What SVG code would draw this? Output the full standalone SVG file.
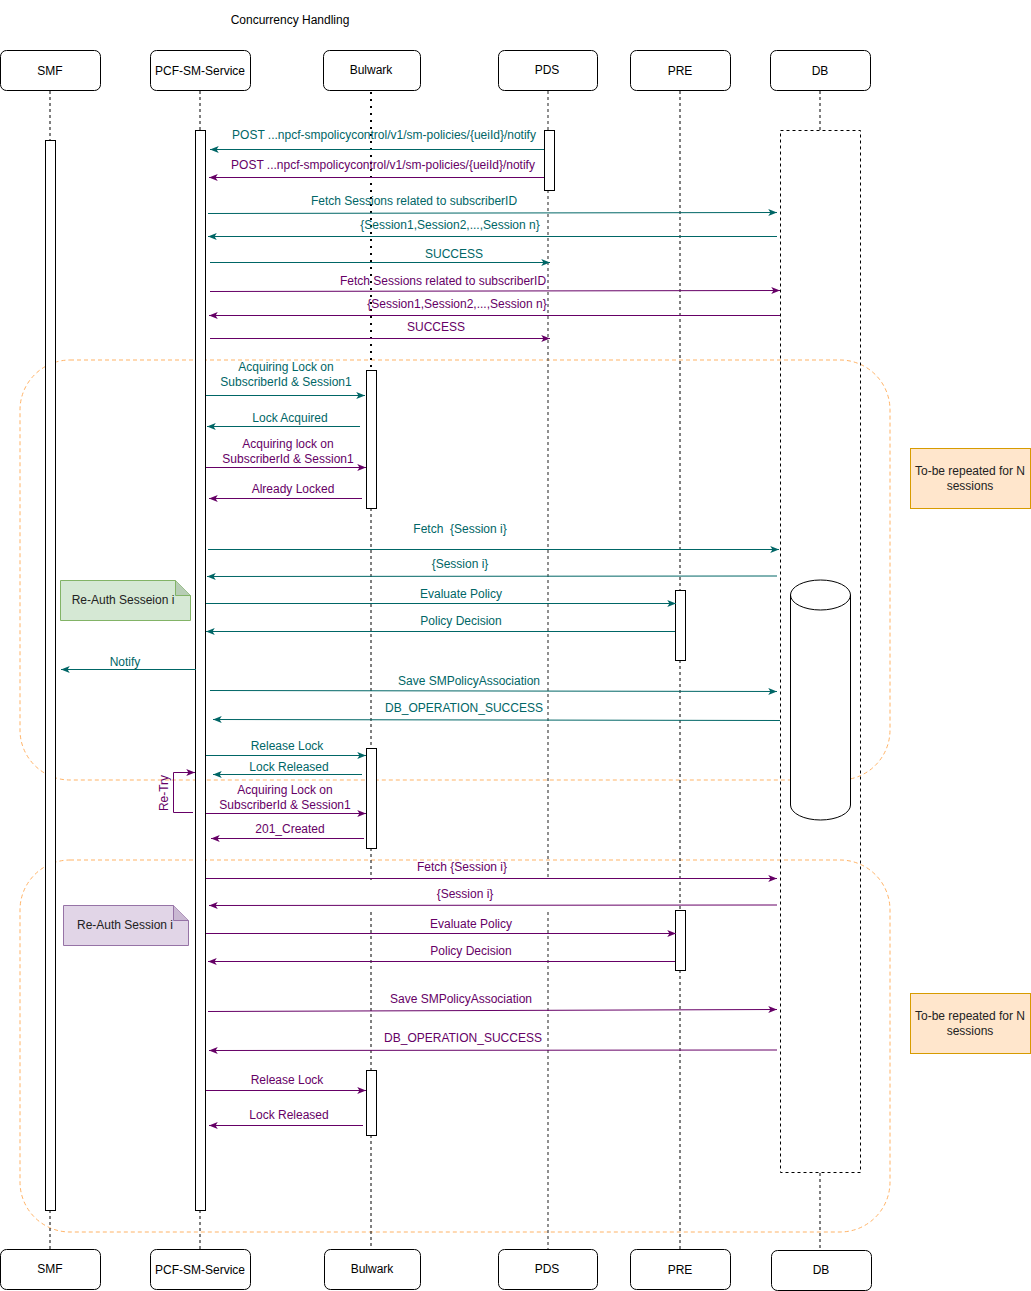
<svg xmlns="http://www.w3.org/2000/svg" width="1031" height="1291" viewBox="0 0 1031 1291">
<style>
text{font-family:"Liberation Sans",Arial,sans-serif;font-size:12px;text-anchor:middle}
.box{fill:#fff;stroke:#000;stroke-width:1}
.act{fill:#fff;stroke:#000;stroke-width:1}
.life{stroke:#000;stroke-width:1;stroke-dasharray:3 3;fill:none}
.gray{stroke:#555;stroke-width:1.3}
.dots{stroke:#000;stroke-width:2;stroke-dasharray:2 5;fill:none}
.frame{fill:none;stroke:#FFB366;stroke-width:1;stroke-dasharray:4 3}
.t{stroke:#006666;stroke-width:1;fill:none;marker-end:url(#at)}
.p{stroke:#660066;stroke-width:1;fill:none;marker-end:url(#ap)}
.tt{fill:#006666}
.pt{fill:#660066}
.rep{fill:#ffe6cc;stroke:#d79b00}
</style>
<defs>
<marker id="at" viewBox="0 0 10 8" refX="10" refY="4" markerWidth="9" markerHeight="7" orient="auto" markerUnits="userSpaceOnUse"><path d="M0,0 L10,4 L0,8 L2.5,4 Z" fill="#006666"/></marker>
<marker id="ap" viewBox="0 0 10 8" refX="10" refY="4" markerWidth="9" markerHeight="7" orient="auto" markerUnits="userSpaceOnUse"><path d="M0,0 L10,4 L0,8 L2.5,4 Z" fill="#660066"/></marker>
</defs>
<rect width="1031" height="1291" fill="#fff"/>
<text x="290" y="24">Concurrency Handling</text>

<g id="frames">
<rect class="frame" x="20" y="360" width="870" height="420" rx="50"/>
<rect class="frame" x="20" y="860" width="870" height="372" rx="50"/>
</g>

<g id="smf">
<rect class="box" x="0.5" y="50.5" width="100" height="40" rx="6"/>
<text x="50" y="75">SMF</text>
<line class="life" x1="50" y1="91" x2="50" y2="140"/>
<line class="life" x1="50" y1="1210" x2="50" y2="1250"/>
<rect class="act" x="45.5" y="140.5" width="10" height="1070"/>
<rect class="box" x="0.5" y="1249.5" width="100" height="40" rx="6"/>
<text x="50" y="1273">SMF</text>
</g>

<g id="pcf">
<rect class="box" x="150.5" y="50.5" width="100" height="40" rx="6"/>
<text x="200" y="75">PCF-SM-Service</text>
<line class="life" x1="200" y1="91" x2="200" y2="130"/>
<line class="life" x1="200" y1="1210" x2="200" y2="1250"/>
<rect class="act" x="195.5" y="130.5" width="10" height="1080"/>
<rect class="box" x="150.5" y="1249.5" width="100" height="40" rx="6"/>
<text x="200" y="1274">PCF-SM-Service</text>
</g>

<g id="bulwark">
<rect class="box" x="323.5" y="50.5" width="97" height="40" rx="6"/>
<text x="371" y="74">Bulwark</text>
<line class="dots" x1="371" y1="92" x2="371" y2="370"/>
<line class="life" x1="371" y1="508" x2="371" y2="748"/>
<line class="life" x1="371" y1="848" x2="371" y2="880"/>
<line class="life" x1="371" y1="912" x2="371" y2="1070"/>
<line class="life" x1="371" y1="1135" x2="371" y2="1250"/>
<rect class="act" x="366.5" y="370.5" width="10" height="138"/>
<rect class="act" x="366.5" y="748.5" width="10" height="100"/>
<rect class="act" x="366.5" y="1070.5" width="10" height="65"/>
<rect class="box" x="324.5" y="1249.5" width="96" height="40" rx="6"/>
<text x="372" y="1273">Bulwark</text>
</g>

<g id="pds">
<rect class="box" x="498.5" y="50.5" width="99" height="40" rx="6"/>
<text x="547" y="74">PDS</text>
<line class="life gray" x1="548" y1="91" x2="548" y2="130"/>
<line class="life gray" x1="548" y1="190" x2="548" y2="880"/>
<line class="life gray" x1="548" y1="912" x2="548" y2="1250"/>
<rect class="act" x="544.5" y="130.5" width="10" height="60"/>
<rect class="box" x="498.5" y="1249.5" width="99" height="40" rx="6"/>
<text x="547" y="1273">PDS</text>
</g>

<g id="pre">
<rect class="box" x="630.5" y="50.5" width="100" height="40" rx="6"/>
<text x="680" y="75">PRE</text>
<line class="life" x1="680" y1="91" x2="680" y2="590"/>
<line class="life" x1="680" y1="660" x2="680" y2="910"/>
<line class="life" x1="680" y1="970" x2="680" y2="1250"/>
<rect class="act" x="675.5" y="590.5" width="10" height="70"/>
<rect class="act" x="675.5" y="910.5" width="10" height="60"/>
<rect class="box" x="630.5" y="1249.5" width="100" height="40" rx="6"/>
<text x="680" y="1274">PRE</text>
</g>

<g id="db">
<rect class="box" x="770.5" y="50.5" width="100" height="40" rx="6"/>
<text x="820" y="75">DB</text>
<line class="life" x1="820" y1="91" x2="820" y2="130"/>
<rect class="life" x="780.5" y="130.5" width="80" height="1042"/>
<line class="life" x1="820" y1="1173" x2="820" y2="1250"/>
<rect class="box" x="771.5" y="1250.5" width="100" height="40" rx="6"/>
<text x="821" y="1274">DB</text>
</g>

<g id="db-cylinder">
<path d="M790.5,595 A30,15 0 0 1 850.5,595 V805 A30,15 0 0 1 790.5,805 Z" fill="#fff" stroke="#000"/>
<path d="M790.5,595 A30,15 0 0 0 850.5,595" fill="none" stroke="#000"/>
</g>

<g id="note-reauth-1">
<path d="M60.5,580.5 H175.5 L190.5,595.5 V620.5 H60.5 Z" fill="#d5e8d4" stroke="#82b366"/>
<path d="M175.5,580.5 V595.5 H190.5" fill="#b7cdb5" stroke="#82b366"/>
<text x="123" y="604" fill="#222">Re-Auth Sesseion i</text>
</g>

<g id="note-reauth-2">
<path d="M63.5,905.5 H173.5 L188.5,920.5 V945.5 H63.5 Z" fill="#e1d5e7" stroke="#9673a6"/>
<path d="M173.5,905.5 V920.5 H188.5" fill="#c9b8d2" stroke="#9673a6"/>
<text x="125" y="929" fill="#222">Re-Auth Session i</text>
</g>

<g id="note-repeat-1">
<rect class="rep" x="910.5" y="448.5" width="120" height="60"/>
<text x="970" y="475" fill="#222">To-be repeated for N</text>
<text x="970" y="490" fill="#222">sessions</text>
</g>

<g id="note-repeat-2">
<rect class="rep" x="910.5" y="993.5" width="120" height="60"/>
<text x="970" y="1020" fill="#222">To-be repeated for N</text>
<text x="970" y="1035" fill="#222">sessions</text>
</g>

<g id="connectors">
<line class="t" x1="544" y1="149.5" x2="210" y2="149.5"/>
<text class="tt" x="384" y="139">POST ...npcf-smpolicycontrol/v1/sm-policies/{ueiId}/notify</text>
<line class="p" x1="544" y1="177.5" x2="209" y2="177.5"/>
<text class="pt" x="383" y="169">POST ...npcf-smpolicycontrol/v1/sm-policies/{ueiId}/notify</text>

<line class="t" x1="208" y1="213.5" x2="777" y2="212.5"/>
<text class="tt" x="414" y="205">Fetch Sessions related to subscriberID</text>
<line class="t" x1="777" y1="236.5" x2="208" y2="236.5"/>
<text class="tt" x="450" y="229">{Session1,Session2,...,Session n}</text>
<line class="t" x1="210" y1="262.5" x2="550" y2="262.5"/>
<text class="tt" x="454" y="258">SUCCESS</text>

<line class="p" x1="210" y1="291.5" x2="780" y2="290.5"/>
<text class="pt" x="443" y="285">Fetch Sessions related to subscriberID</text>
<line class="p" x1="780" y1="315.5" x2="209" y2="315.5"/>
<text class="pt" x="457" y="308">{Session1,Session2,...,Session n}</text>
<line class="p" x1="210" y1="338.5" x2="550" y2="338.5"/>
<text class="pt" x="436" y="331">SUCCESS</text>

<line class="t" x1="206" y1="395.5" x2="365" y2="395.5"/>
<text class="tt" x="286" y="371">Acquiring Lock on</text>
<text class="tt" x="286" y="386">SubscriberId &amp; Session1</text>
<line class="t" x1="360" y1="426.5" x2="207" y2="426.5"/>
<text class="tt" x="290" y="422">Lock Acquired</text>
<line class="p" x1="206" y1="467.5" x2="366" y2="467.5"/>
<text class="pt" x="288" y="448">Acquiring lock on</text>
<text class="pt" x="288" y="463">SubscriberId &amp; Session1</text>
<line class="p" x1="362" y1="498.5" x2="209" y2="498.5"/>
<text class="pt" x="293" y="493">Already Locked</text>

<line class="t" x1="208" y1="549.5" x2="779" y2="549.5"/>
<text class="tt" x="460" y="533" xml:space="preserve">Fetch  {Session i}</text>
<line class="t" x1="777" y1="576" x2="207" y2="576.5"/>
<text class="tt" x="460" y="568">{Session i}</text>
<line class="t" x1="206" y1="603.5" x2="676" y2="603.5"/>
<text class="tt" x="461" y="598">Evaluate Policy</text>
<line class="t" x1="675" y1="631.5" x2="206" y2="631.5"/>
<text class="tt" x="461" y="625">Policy Decision</text>
<line class="t" x1="196" y1="669.5" x2="61" y2="669.5"/>
<text class="tt" x="125" y="666">Notify</text>
<line class="t" x1="210" y1="690.5" x2="777" y2="691.5"/>
<text class="tt" x="469" y="685">Save SMPolicyAssociation</text>
<line class="t" x1="780" y1="720.5" x2="213" y2="719.5"/>
<text class="tt" x="464" y="712">DB_OPERATION_SUCCESS</text>
<line class="t" x1="206" y1="755.5" x2="366" y2="755.5"/>
<text class="tt" x="287" y="750">Release Lock</text>
<line class="t" x1="362" y1="774.5" x2="213" y2="774.5"/>
<text class="tt" x="289" y="771">Lock Released</text>

<path class="p" d="M193,812.5 H173.5 V772.5 H195"/>
<text class="pt" transform="translate(168,793) rotate(-90)">Re-Try</text>

<line class="p" x1="206" y1="813.5" x2="366" y2="813.5"/>
<text class="pt" x="285" y="794">Acquiring Lock on</text>
<text class="pt" x="285" y="809">SubscriberId &amp; Session1</text>
<line class="p" x1="364" y1="838.5" x2="211" y2="838.5"/>
<text class="pt" x="290" y="833">201_Created</text>

<line class="p" x1="206" y1="878.5" x2="777" y2="878.5"/>
<text class="pt" x="462" y="871">Fetch {Session i}</text>
<line class="p" x1="777" y1="905" x2="209" y2="905.5"/>
<text class="pt" x="465" y="898">{Session i}</text>
<line class="p" x1="206" y1="933.5" x2="676" y2="933.5"/>
<text class="pt" x="471" y="928">Evaluate Policy</text>
<line class="p" x1="675" y1="961.5" x2="208" y2="961.5"/>
<text class="pt" x="471" y="955">Policy Decision</text>
<line class="p" x1="208" y1="1011.5" x2="777" y2="1009.5"/>
<text class="pt" x="461" y="1003">Save SMPolicyAssociation</text>
<line class="p" x1="777" y1="1050" x2="209" y2="1050.5"/>
<text class="pt" x="463" y="1042">DB_OPERATION_SUCCESS</text>
<line class="p" x1="206" y1="1090.5" x2="366" y2="1090.5"/>
<text class="pt" x="287" y="1084">Release Lock</text>
<line class="p" x1="363" y1="1125.5" x2="209" y2="1125.5"/>
<text class="pt" x="289" y="1119">Lock Released</text>
</g>
</svg>
